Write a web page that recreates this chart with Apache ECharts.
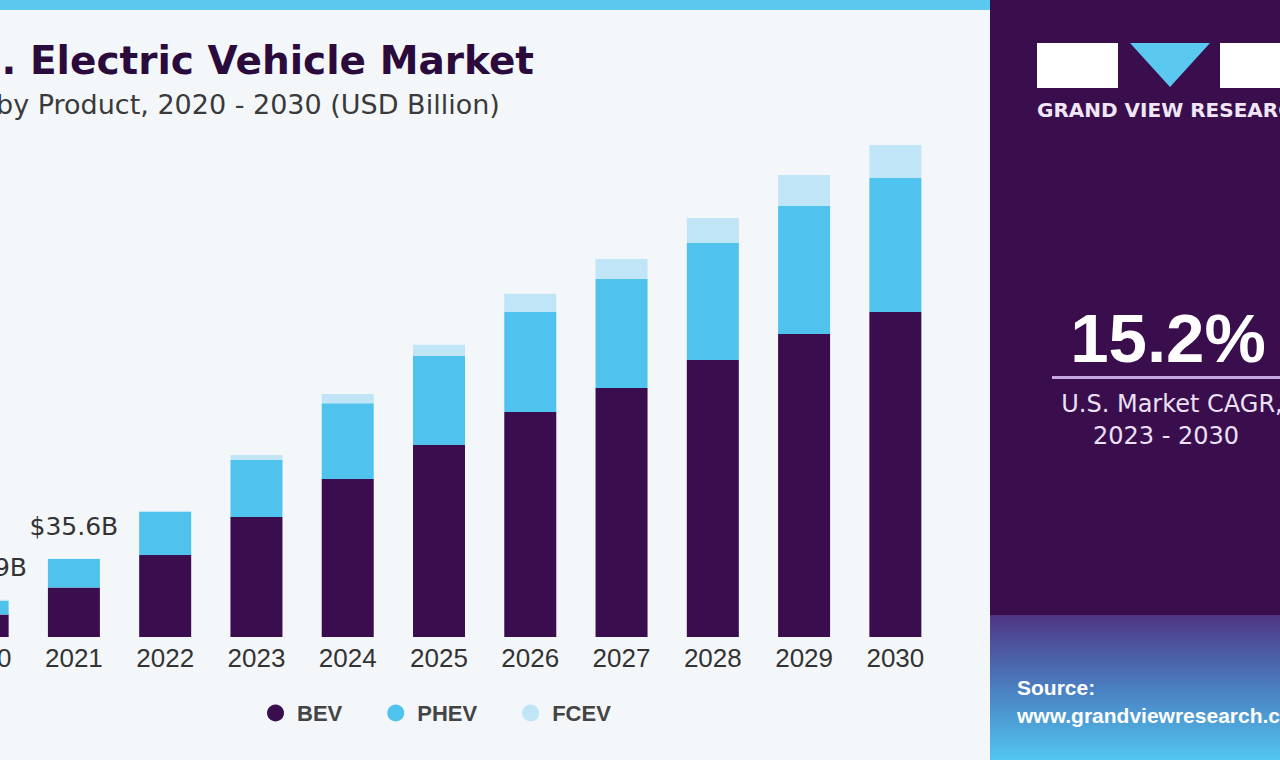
<!DOCTYPE html>
<html>
<head>
<meta charset="utf-8">
<script src="https://cdn.jsdelivr.net/npm/echarts@6/dist/echarts.min.js"></script>
<style>
html,body{margin:0;padding:0;background:#f4f7fa;overflow:hidden;width:1280px;height:760px;}
#c{width:1343px;height:760px;margin-left:-63px;}
</style>
</head>
<body>
<div id="c"></div>
<script>
const years = ['2020','2021','2022','2023','2024','2025','2026','2027','2028','2029','2030'];
const bev  = [10.2, 22.5, 37.3, 54.5, 71.8, 87.3, 102.3, 113.2, 125.9, 137.7, 147.7];
const phev = [6.3, 12.9, 19.5, 25.9, 34.5, 40.5, 45.5, 49.5, 53.2, 58.2, 60.9];
const fcev = [0.4, 0.2, 0.5, 2.3, 4.1, 5.0, 8.2, 9.1, 11.4, 14.1, 15.0];
const totalLabels = ['$16.9B', '$35.6B', '', '', '', '', '', '', '', '', ''];
const seriesNames = ['BEV', 'PHEV', 'FCEV'];
const colors = ['#3a0d4e', '#4fc3ee', '#bfe5f6'];

// the chart canvas is 63px wider than the window and shifted left (the reference is cropped)
const OX = 63;
const chart = echarts.init(document.getElementById('c'), null, {renderer: 'svg'});
const font = 'Liberation Sans, Arial, sans-serif';
const dv = '"DejaVu Sans", sans-serif';

chart.setOption({
  backgroundColor: '#f4f7fa',
  animation: false,
  grid: {left: 0, right: 339, top: 87, bottom: 123, containLabel: false},
  xAxis: {
    type: 'category', data: years,
    axisLine: {show: false}, axisTick: {show: false},
    axisLabel: {fontSize: 26, color: '#333', margin: 8, fontFamily: font}
  },
  yAxis: {type: 'value', min: 0, max: 250, show: false, splitLine: {show: false}},
  legend: {
    data: seriesNames, left: 262 + OX, top: 697, icon: 'circle',
    itemWidth: 17, itemHeight: 17, itemGap: 45,
    textStyle: {fontSize: 22, fontWeight: 'bold', color: '#444', fontFamily: font, padding: [0, 0, 0, 8]}
  },
  series: [
    {name: 'BEV', type: 'bar', stack: 't', data: bev, barWidth: 52, itemStyle: {color: colors[0]}},
    {name: 'PHEV', type: 'bar', stack: 't', data: phev, barWidth: 52, itemStyle: {color: colors[1]}},
    {name: 'FCEV', type: 'bar', stack: 't', data: fcev, barWidth: 52, itemStyle: {color: colors[2]},
     label: {show: true, position: 'top', distance: 20, fontSize: 25, color: '#333', fontFamily: dv,
             formatter: p => totalLabels[p.dataIndex]}}
  ],
  graphic: [
    {type: 'rect', shape: {x: 0, y: 0, width: 990 + OX, height: 10}, style: {fill: '#5bc8f0'}},
    {type: 'text', left: -10, top: 41, style: {text: 'U.S. Electric Vehicle Market', font: 'bold 39px ' + dv, fill: '#2b0b3c'}},
    {type: 'text', left: OX - 4, top: 91, style: {text: 'by Product, 2020 - 2030 (USD Billion)', font: '27px ' + dv, fill: '#3a3a3a'}},
    // right panel
    {type: 'rect', shape: {x: 990 + OX, y: 0, width: 290, height: 760}, style: {fill: '#3a0e4d'}},
    {type: 'rect', shape: {x: 990 + OX, y: 615, width: 290, height: 145},
     style: {fill: new echarts.graphic.LinearGradient(0, 0, 0, 1, [
       {offset: 0, color: '#4f3584'}, {offset: 0.5, color: '#4a7ec0'}, {offset: 1, color: '#52c6f0'}])}},
    {type: 'rect', shape: {x: 1037 + OX, y: 43, width: 81, height: 45}, style: {fill: '#ffffff'}},
    {type: 'rect', shape: {x: 1220 + OX, y: 43, width: 70, height: 45}, style: {fill: '#ffffff'}},
    {type: 'polygon', shape: {points: [[1130 + OX, 43], [1210 + OX, 43], [1170 + OX, 87]]}, style: {fill: '#5bc8f0'}},
    {type: 'text', left: 1037 + OX, top: 100, style: {text: 'GRAND VIEW RESEARCH', font: 'bold 20px ' + dv, fill: '#f0e6f7'}},
    {type: 'text', x: 1168 + OX, y: 338, style: {text: '15.2%', font: 'bold 69px "Liberation Sans", Arial, sans-serif', fill: '#ffffff', align: 'center', verticalAlign: 'middle'}},
    {type: 'rect', shape: {x: 1052 + OX, y: 376, width: 230, height: 3}, style: {fill: '#c8a6e0'}},
    {type: 'text', x: 1172 + OX, y: 404, style: {text: 'U.S. Market CAGR,', font: '24px ' + dv, fill: '#ece0f7', align: 'center', verticalAlign: 'middle'}},
    {type: 'text', x: 1166 + OX, y: 436, style: {text: '2023 - 2030', font: '24px ' + dv, fill: '#ece0f7', align: 'center', verticalAlign: 'middle'}},
    {type: 'text', left: 1017 + OX, top: 677, style: {text: 'Source:', font: 'bold 21px "Liberation Sans", Arial, sans-serif', fill: '#ffffff'}},
    {type: 'text', left: 1017 + OX, top: 705, style: {text: 'www.grandviewresearch.com', font: 'bold 21px "Liberation Sans", Arial, sans-serif', fill: '#ffffff'}}
  ]
});
</script>
</body>
</html>
